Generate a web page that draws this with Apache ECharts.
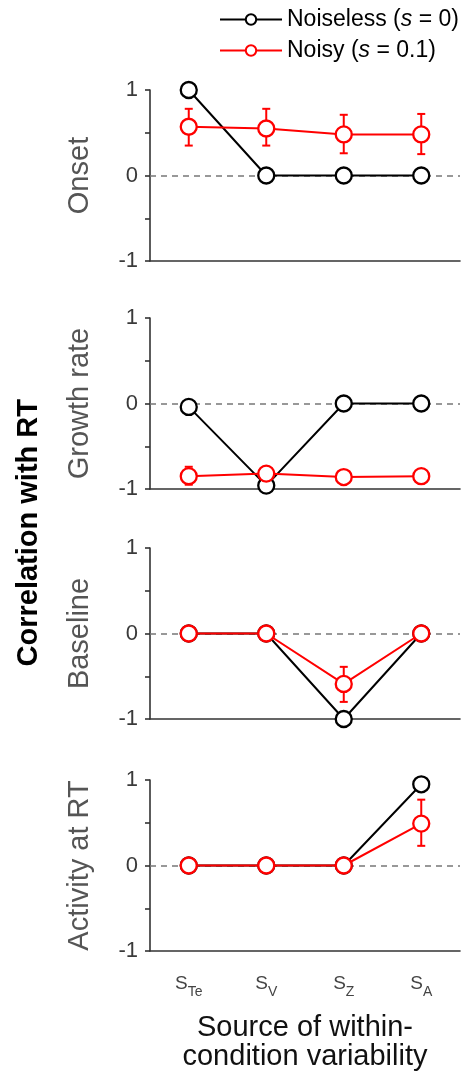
<!DOCTYPE html>
<html>
<head>
<meta charset="utf-8">
<script src="https://cdn.jsdelivr.net/npm/echarts@6/dist/echarts.min.js"></script>
<style>html,body{margin:0;padding:0;background:#fff}#c{width:462px;height:1079px}</style>
</head>
<body>
<div id="c"></div>
<script>
// ---- data ----
const categories = ['Te', 'V', 'Z', 'A'];
const panelNames = ['Onset', 'Growth rate', 'Baseline', 'Activity at RT'];
const yTickLabels = ['-1', '0', '1'];

const onsetNoiseless      = [1, 0, 0, 0];
const onsetNoiselessLow   = [1, 0, 0, 0];
const onsetNoiselessHigh  = [1, 0, 0, 0];
const onsetNoisy          = [0.57, 0.55, 0.48, 0.48];
const onsetNoisyLow       = [0.35, 0.35, 0.26, 0.25];
const onsetNoisyHigh      = [0.78, 0.78, 0.71, 0.72];

const growthNoiseless     = [-0.04, -0.96, 0, 0];
const growthNoiselessLow  = [-0.04, -0.96, 0, 0];
const growthNoiselessHigh = [-0.04, -0.96, 0, 0];
const growthNoisy         = [-0.85, -0.82, -0.86, -0.85];
const growthNoisyLow      = [-0.95, -0.9, -0.92, -0.93];
const growthNoisyHigh     = [-0.74, -0.77, -0.8, -0.78];

const baselineNoiseless     = [0, 0, -1, 0];
const baselineNoiselessLow  = [0, 0, -1, 0];
const baselineNoiselessHigh = [0, 0, -1, 0];
const baselineNoisy         = [0, 0, -0.59, 0];
const baselineNoisyLow      = [0, 0, -0.8, 0];
const baselineNoisyHigh     = [0, 0, -0.39, 0];

const activityNoiseless     = [0, 0, 0, 0.95];
const activityNoiselessLow  = [0, 0, 0, 0.88];
const activityNoiselessHigh = [0, 0, 0, 0.97];
const activityNoisy         = [0, 0, 0, 0.49];
const activityNoisyLow      = [0, 0, 0, 0.23];
const activityNoisyHigh     = [0, 0, 0, 0.77];

const panelsNoiseless     = [onsetNoiseless, growthNoiseless, baselineNoiseless, activityNoiseless];
const panelsNoiselessLow  = [onsetNoiselessLow, growthNoiselessLow, baselineNoiselessLow, activityNoiselessLow];
const panelsNoiselessHigh = [onsetNoiselessHigh, growthNoiselessHigh, baselineNoiselessHigh, activityNoiselessHigh];
const panelsNoisy         = [onsetNoisy, growthNoisy, baselineNoisy, activityNoisy];
const panelsNoisyLow      = [onsetNoisyLow, growthNoisyLow, baselineNoisyLow, activityNoisyLow];
const panelsNoisyHigh     = [onsetNoisyHigh, growthNoisyHigh, baselineNoisyHigh, activityNoisyHigh];

// ---- layout ----
const FONT = '"Liberation Sans", Arial, Helvetica, sans-serif';
const gridTops = [90, 318, 548, 780];
const gridHeight = 171;
const AXIS_COLOR = '#333';

const chart = echarts.init(document.getElementById('c'), null, {renderer: 'canvas'});

const grids = [], xAxes = [], yAxes = [], series = [];

function errRender(color) {
  return function (params, api) {
    const x = api.value(0);
    const lo = api.coord([x, api.value(1)]);
    const hi = api.coord([x, api.value(2)]);
    if (Math.abs(lo[1] - hi[1]) < 0.5) return null;
    const w = 4;
    const style = {stroke: color, lineWidth: 2};
    return {
      type: 'group',
      children: [
        {type: 'line', shape: {x1: lo[0], y1: lo[1], x2: hi[0], y2: hi[1]}, style},
        {type: 'line', shape: {x1: lo[0] - w, y1: lo[1], x2: lo[0] + w, y2: lo[1]}, style},
        {type: 'line', shape: {x1: hi[0] - w, y1: hi[1], x2: hi[0] + w, y2: hi[1]}, style}
      ]
    };
  };
}

for (let p = 0; p < 4; p++) {
  grids.push({left: 150, right: 2, top: gridTops[p], height: gridHeight, containLabel: false});
  const isLast = p === 3;
  xAxes.push({
    type: 'category', gridIndex: p, data: categories, boundaryGap: true,
    axisLine: {onZero: false, lineStyle: {color: AXIS_COLOR, width: 1.6}},
    axisTick: {alignWithLabel: true, inside: false, length: 5, lineStyle: {color: AXIS_COLOR, width: 1.6}},
    axisLabel: isLast ? {
      show: true, margin: 20, interval: 0,
      formatter: v => '{s|S}{sub|' + v + '}',
      rich: {
        s: {fontFamily: FONT, fontSize: 19, color: '#444', lineHeight: 22, verticalAlign: 'bottom'},
        sub: {fontFamily: FONT, fontSize: 14, color: '#444', lineHeight: 15, verticalAlign: 'bottom', padding: [0, 0, -6, 0]}
      }
    } : {show: false},
    splitLine: {show: false},
    name: isLast ? 'Source of within-\ncondition variability' : '',
    nameLocation: 'middle', nameGap: 62,
    nameTextStyle: {fontFamily: FONT, fontSize: 29, color: '#111', lineHeight: 29}
  });
  yAxes.push({
    type: 'value', gridIndex: p, min: -1, max: 1, interval: 0.5,
    axisLine: {show: true, lineStyle: {color: AXIS_COLOR, width: 1.6}},
    axisTick: {show: true, inside: false, length: 5, lineStyle: {color: AXIS_COLOR, width: 1.6}},
    axisLabel: {
      margin: 12, fontFamily: FONT, fontSize: 22, color: '#3a3a3a',
      formatter: v => {
        const s = String(Math.round(v));
        return (Math.abs(v - Math.round(v)) < 1e-9 && yTickLabels.indexOf(s) >= 0) ? s : '';
      }
    },
    splitLine: {show: false},
    name: panelNames[p], nameLocation: 'middle', nameGap: 56,
    nameTextStyle: {fontFamily: FONT, fontSize: 29, color: '#555'}
  });

  const mk = (name, color, vals, z) => ({
    name, type: 'line', xAxisIndex: p, yAxisIndex: p, z,
    data: vals, symbol: 'circle', symbolSize: 16,
    itemStyle: {color: '#fff', borderColor: color, borderWidth: 2.3},
    lineStyle: {color: color, width: 2},
    emphasis: {disabled: true}, animation: false
  });
  const black = mk('Noiseless', '#000', panelsNoiseless[p], 4);
  black.markLine = {
    silent: true, symbol: 'none', animation: false,
    label: {show: false},
    lineStyle: {color: '#777', type: [6, 5], width: 1.6},
    data: [{yAxis: 0}],
    z: 1
  };
  series.push(black);
  series.push(mk('Noisy', '#f00', panelsNoisy[p], 6));
  series.push({
    name: 'errNoiseless', type: 'custom', xAxisIndex: p, yAxisIndex: p, z: 3,
    renderItem: errRender('#000'),
    encode: {x: 0, y: [1, 2]},
    data: categories.map((c, i) => [i, panelsNoiselessLow[p][i], panelsNoiselessHigh[p][i]]),
    animation: false, silent: true
  });
  series.push({
    name: 'errNoisy', type: 'custom', xAxisIndex: p, yAxisIndex: p, z: 5,
    renderItem: errRender('#f00'),
    encode: {x: 0, y: [1, 2]},
    data: categories.map((c, i) => [i, panelsNoisyLow[p][i], panelsNoisyHigh[p][i]]),
    animation: false, silent: true
  });
}

const legendLabels = {
  'Noiseless': '{n|Noiseless (}{i|s}{n| = 0)}',
  'Noisy': '{n|Noisy (}{i|s}{n| = 0.1)}'
};

chart.setOption({
  animation: false,
  grid: grids, xAxis: xAxes, yAxis: yAxes, series: series,
  legend: {
    data: ['Noiseless', 'Noisy'],
    orient: 'vertical', left: 214, top: 3,
    itemWidth: 62, itemHeight: 13, itemGap: 8,
    formatter: n => legendLabels[n],
    textStyle: {
      rich: {
        n: {fontFamily: FONT, fontSize: 23, color: '#000'},
        i: {fontFamily: FONT, fontSize: 23, color: '#000', fontStyle: 'italic'}
      }
    },
    selectedMode: false
  },
  graphic: [{
    type: 'text', left: 14, top: 399,
    rotation: Math.PI / 2,
    style: {text: 'Correlation with RT', font: 'bold 29px ' + FONT, fill: '#000'}
  }]
});
</script>
</body>
</html>
